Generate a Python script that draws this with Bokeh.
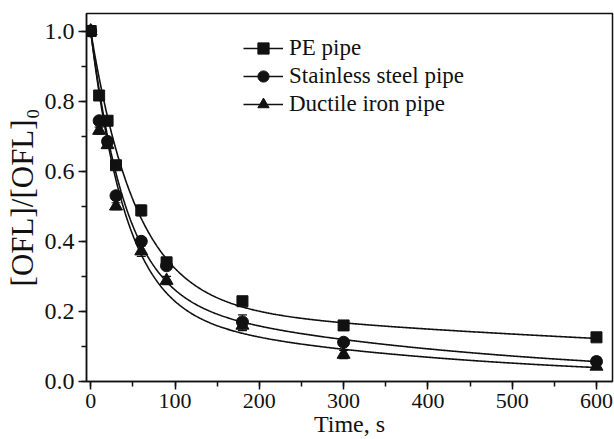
import numpy as np
from bokeh.plotting import figure
from bokeh.models import (ColumnDataSource, Range1d, FixedTicker, Legend, LegendItem,
                          Whisker, TeeHead, CustomJSTickFormatter)
from bokeh.embed import file_html
from bokeh.resources import INLINE

# Sampling times (s)
time_s = [0, 10, 20, 30, 60, 90, 180, 300, 600]

# Normalised OFL concentration [OFL]/[OFL]0 for each pipe material
pe_pipe = [1.0, 0.816, 0.744, 0.617, 0.488, 0.340, 0.229, 0.160, 0.126]
ss_pipe = [1.0, 0.744, 0.685, 0.530, 0.400, 0.330, 0.170, 0.112, 0.057]
di_pipe = [1.0, 0.716, 0.675, 0.500, 0.372, 0.288, 0.160, 0.077, 0.043]

# Standard deviations
pe_err = [0.0, 0.010, 0.010, 0.010, 0.015, 0.010, 0.012, 0.008, 0.010]
ss_err = [0.0, 0.010, 0.010, 0.010, 0.010, 0.010, 0.020, 0.008, 0.012]
di_err = [0.0, 0.010, 0.010, 0.010, 0.015, 0.012, 0.015, 0.012, 0.008]

series_names = ["PE pipe", "Stainless steel pipe", "Ductile iron pipe"]
markers = ["square", "circle", "triangle"]
marker_sizes = [11, 12, 13]

x_ticks = [0, 100, 200, 300, 400, 500, 600]
y_ticks = [0.0, 0.2, 0.4, 0.6, 0.8, 1.0]

FONT = "Liberation Serif"
INK = "#111111"


def biexp_fit(t, c):
    """Two-exponential decay fit (relative residuals) by grid search."""
    t = np.asarray(t, float)
    c = np.asarray(c, float)
    a = np.linspace(0.05, 0.95, 91)
    k1 = np.geomspace(0.004, 0.3, 80)
    k2 = np.geomspace(1e-4, 0.01, 80)
    A, K1, K2 = np.meshgrid(a, k1, k2, indexing="ij")
    pred = (A[..., None] * np.exp(-K1[..., None] * t)
            + (1 - A[..., None]) * np.exp(-K2[..., None] * t))
    sse = (((pred - c) / c) ** 2).sum(axis=-1)
    i = np.unravel_index(np.argmin(sse), sse.shape)
    return A[i], K1[i], K2[i]


p = figure(width=614, height=439, output_backend="svg", toolbar_location=None,
           x_range=Range1d(-5, 619), y_range=Range1d(0, 1.05),
           min_border_left=86, min_border_right=2, min_border_top=13,
           min_border_bottom=58)
p.xgrid.visible = False
p.ygrid.visible = False
p.outline_line_color = INK
p.outline_line_width = 1.5
p.background_fill_color = "white"
p.border_fill_color = "white"

t_smooth = np.linspace(0, 600, 601)
items = []
for name, vals, errs, mk, ms in zip(series_names, [pe_pipe, ss_pipe, di_pipe],
                                    [pe_err, ss_err, di_err], markers, marker_sizes):
    a, k1, k2 = biexp_fit(time_s, vals)
    fit = a * np.exp(-k1 * t_smooth) + (1 - a) * np.exp(-k2 * t_smooth)
    line_r = p.line(t_smooth, fit, line_color=INK, line_width=1.6)

    src = ColumnDataSource(dict(
        t=time_s, c=vals,
        lo=[v - e for v, e in zip(vals, errs)],
        hi=[v + e for v, e in zip(vals, errs)]))
    wh = Whisker(source=src, base="t", lower="lo", upper="hi",
                 line_color=INK, line_width=1.2,
                 upper_head=TeeHead(size=9, line_color=INK, line_width=1.2),
                 lower_head=TeeHead(size=9, line_color=INK, line_width=1.2))
    p.add_layout(wh)
    sc_r = p.scatter("t", "c", source=src, marker=mk, size=ms,
                     fill_color=INK, line_color=INK)
    items.append(LegendItem(label=name, renderers=[line_r, sc_r]))

legend = Legend(items=items, location=(157, 263), orientation="vertical",
                label_text_font=FONT, label_text_font_size="23px",
                label_text_color=INK, glyph_width=40, glyph_height=28,
                label_height=28, spacing=0, padding=0, margin=0,
                label_standoff=6, border_line_color=None,
                background_fill_alpha=0)
p.add_layout(legend, "center")

for ax in (p.xaxis[0], p.yaxis[0]):
    ax.axis_line_color = INK
    ax.axis_line_width = 1.5
    ax.major_tick_line_color = INK
    ax.major_tick_line_width = 1.5
    ax.minor_tick_line_color = INK
    ax.minor_tick_line_width = 1.5
    ax.major_tick_in = 0
    ax.major_tick_out = 8
    ax.minor_tick_in = 0
    ax.minor_tick_out = 5
    ax.major_label_text_font = FONT
    ax.major_label_text_color = INK
    ax.axis_label_text_font = FONT
    ax.axis_label_text_color = INK
    ax.axis_label_text_font_style = "normal"

p.xaxis.major_label_text_font_size = "22px"
p.yaxis.major_label_text_font_size = "24px"
p.xaxis.axis_label_text_font_size = "24px"
p.yaxis.axis_label_text_font_size = "31px"

p.xaxis.ticker = FixedTicker(ticks=x_ticks, minor_ticks=list(range(0, 601, 50)))
p.yaxis.ticker = FixedTicker(ticks=y_ticks,
                             minor_ticks=[round(0.1 * i, 1) for i in range(11)])
p.yaxis.formatter = CustomJSTickFormatter(code="return tick.toFixed(1);")
p.xaxis.axis_label = "Time, s"
p.yaxis.axis_label = "[OFL]/[OFL]\u2080"
p.xaxis.major_label_standoff = 4
p.yaxis.major_label_standoff = 4
p.xaxis.axis_label_standoff = 0
p.yaxis.axis_label_standoff = 2

open("out.html", "w").write(file_html(p, INLINE))
